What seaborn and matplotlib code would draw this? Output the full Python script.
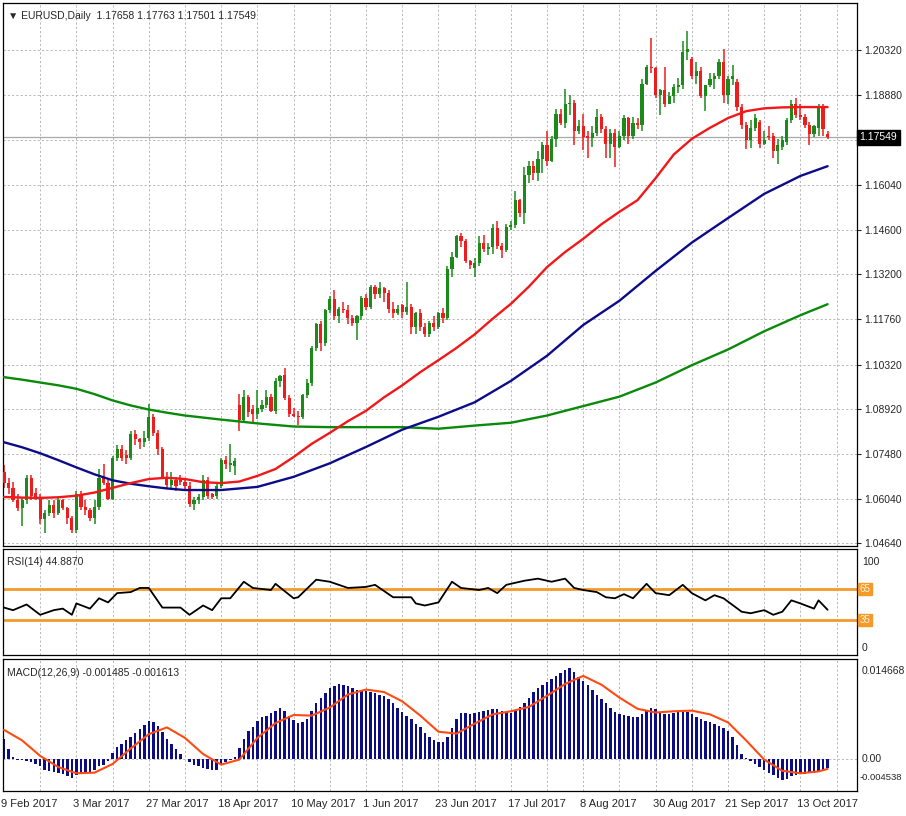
# EURUSD daily chart with moving averages, RSI and MACD panels
import numpy as np
import matplotlib
matplotlib.use("Agg")
import matplotlib.pyplot as plt
import matplotlib.transforms as mtrans
import seaborn as sns

# --------------------------------------------
# DATA
# --------------------------------------------

date_ticks = [0, 16, 32, 48, 64, 80, 96, 112, 128, 144, 160, 176]
date_labels = ["9 Feb 2017", "3 Mar 2017", "27 Mar 2017", "18 Apr 2017",
               "10 May 2017", "1 Jun 2017", "23 Jun 2017", "17 Jul 2017",
               "8 Aug 2017", "30 Aug 2017", "21 Sep 2017", "13 Oct 2017"]

opens = [
    1.0690, 1.0655, 1.0640, 1.0600, 1.0575, 1.0600, 1.0670, 1.0625, 1.0610, 1.0540, 1.0560, 1.0585, 1.0560, 1.0600, 1.0575, 1.0545,
    1.0505, 1.0620, 1.0580, 1.0570, 1.0545, 1.0580, 1.0670, 1.0655, 1.0605, 1.0735, 1.0765, 1.0745, 1.0735, 1.0810, 1.0795, 1.0785,
    1.0800, 1.0865, 1.0815, 1.0765, 1.0675, 1.0650, 1.0665, 1.0670, 1.0660, 1.0645, 1.0590, 1.0600, 1.0610, 1.0665, 1.0620, 1.0615,
    1.0645, 1.0730, 1.0712, 1.0710, 1.0905, 1.0855, 1.0930, 1.0890, 1.0875, 1.0890, 1.0905, 1.0930, 1.0885, 1.0980, 1.1000, 1.0925,
    1.0875, 1.0870, 1.0865, 1.0935, 1.0975, 1.1085, 1.1160, 1.1100, 1.1205, 1.1240, 1.1185, 1.1210, 1.1205, 1.1180, 1.1165, 1.1185,
    1.1245, 1.1215, 1.1280, 1.1255, 1.1275, 1.1260, 1.1210, 1.1195, 1.1220, 1.1200, 1.1215, 1.1150, 1.1195, 1.1150, 1.1130, 1.1165,
    1.1150, 1.1195, 1.1180, 1.1335, 1.1375, 1.1440, 1.1425, 1.1360, 1.1340, 1.1355, 1.1420, 1.1400, 1.1405, 1.1465, 1.1410, 1.1395,
    1.1470, 1.1475, 1.1555, 1.1515, 1.1635, 1.1665, 1.1640, 1.1685, 1.1730, 1.1680, 1.1750, 1.1830, 1.1800, 1.1860, 1.1865, 1.1775,
    1.1790, 1.1760, 1.1752, 1.1770, 1.1820, 1.1780, 1.1735, 1.1770, 1.1725, 1.1760, 1.1815, 1.1760, 1.1800, 1.1795, 1.1925, 1.1980,
    1.1975, 1.1890, 1.1905, 1.1860, 1.1885, 1.1915, 1.1920, 1.2025, 1.2005, 1.1950, 1.1965, 1.1885, 1.1920, 1.1940, 1.1950, 1.1995,
    1.1890, 1.1940, 1.1930, 1.1850, 1.1795, 1.1745, 1.1785, 1.1805, 1.1735, 1.1760, 1.1760, 1.1710, 1.1725, 1.1740, 1.1810, 1.1860,
    1.1825, 1.1820, 1.1795, 1.1765, 1.1785, 1.1850, 1.17658,
]
highs = [
    1.0712, 1.0672, 1.0660, 1.0620, 1.0610, 1.0680, 1.0680, 1.0640, 1.0620, 1.0570, 1.0600, 1.0600, 1.0610, 1.0605, 1.0580, 1.0550,
    1.0630, 1.0630, 1.0600, 1.0575, 1.0600, 1.0700, 1.0715, 1.0665, 1.0740, 1.0775, 1.0775, 1.0760, 1.0820, 1.0825, 1.0800, 1.0820,
    1.0906, 1.0875, 1.0825, 1.0770, 1.0690, 1.0690, 1.0675, 1.0680, 1.0670, 1.0660, 1.0610, 1.0620, 1.0680, 1.0675, 1.0625, 1.0655,
    1.0735, 1.0740, 1.0778, 1.0735, 1.0937, 1.0950, 1.0935, 1.0905, 1.0950, 1.0920, 1.0950, 1.0940, 1.0990, 1.1000, 1.1022, 1.0935,
    1.0895, 1.0885, 1.0940, 1.0985, 1.1090, 1.1165, 1.1170, 1.1210, 1.1250, 1.1268, 1.1215, 1.1230, 1.1220, 1.1190, 1.1190, 1.1250,
    1.1255, 1.1285, 1.1285, 1.1295, 1.1280, 1.1270, 1.1230, 1.1220, 1.1225, 1.1296, 1.1225, 1.1200, 1.1210, 1.1165, 1.1170, 1.1185,
    1.1200, 1.1212, 1.1345, 1.1390, 1.1445, 1.1450, 1.1430, 1.1365, 1.1370, 1.1440, 1.1445, 1.1420, 1.1480, 1.1490, 1.1420, 1.1480,
    1.1490, 1.1583, 1.1560, 1.1660, 1.1680, 1.1680, 1.1710, 1.1740, 1.1775, 1.1760, 1.1845, 1.1845, 1.1910, 1.1890, 1.1875, 1.1810,
    1.1830, 1.1775, 1.1790, 1.1845, 1.1830, 1.1790, 1.1780, 1.1780, 1.1775, 1.1825, 1.1820, 1.1820, 1.1815, 1.1940, 1.1985, 1.2070,
    1.1980, 1.1910, 1.1980, 1.1900, 1.1925, 1.1945, 1.2060, 1.2092, 1.2010, 1.1995, 1.1980, 1.1920, 1.1960, 1.1960, 1.2005, 1.2035,
    1.1950, 1.1985, 1.1940, 1.1860, 1.1805, 1.1810, 1.1830, 1.1810, 1.1775, 1.1790, 1.1770, 1.1750, 1.1760, 1.1815, 1.1875, 1.1880,
    1.1860, 1.1830, 1.1805, 1.1795, 1.1860, 1.1860, 1.17763,
]
lows = [
    1.0640, 1.0620, 1.0595, 1.0565, 1.0520, 1.0590, 1.0600, 1.0600, 1.0525, 1.0495, 1.0550, 1.0545, 1.0555, 1.0570, 1.0525, 1.0495,
    1.0495, 1.0570, 1.0555, 1.0535, 1.0525, 1.0570, 1.0650, 1.0600, 1.0600, 1.0725, 1.0725, 1.0715, 1.0730, 1.0775, 1.0765, 1.0770,
    1.0790, 1.0805, 1.0745, 1.0670, 1.0640, 1.0640, 1.0630, 1.0650, 1.0635, 1.0580, 1.0570, 1.0590, 1.0600, 1.0605, 1.0605, 1.0605,
    1.0640, 1.0700, 1.0690, 1.0680, 1.0820, 1.0850, 1.0865, 1.0850, 1.0860, 1.0880, 1.0895, 1.0880, 1.0875, 1.0960, 1.0920, 1.0865,
    1.0865, 1.0840, 1.0860, 1.0925, 1.0965, 1.1075, 1.1075, 1.1090, 1.1195, 1.1175, 1.1165, 1.1195, 1.1160, 1.1155, 1.1110, 1.1175,
    1.1205, 1.1210, 1.1240, 1.1245, 1.1230, 1.1195, 1.1180, 1.1190, 1.1180, 1.1190, 1.1130, 1.1130, 1.1140, 1.1120, 1.1120, 1.1140,
    1.1145, 1.1165, 1.1175, 1.1310, 1.1370, 1.1405, 1.1355, 1.1335, 1.1310, 1.1345, 1.1390, 1.1380, 1.1385, 1.1400, 1.1370, 1.1390,
    1.1460, 1.1465, 1.1500, 1.1480, 1.1610, 1.1620, 1.1615, 1.1640, 1.1665, 1.1675, 1.1725, 1.1795, 1.1785, 1.1825, 1.1730, 1.1765,
    1.1715, 1.1690, 1.1725, 1.1760, 1.1770, 1.1690, 1.1690, 1.1660, 1.1720, 1.1745, 1.1735, 1.1750, 1.1780, 1.1775, 1.1920, 1.1960,
    1.1880, 1.1825, 1.1850, 1.1860, 1.1865, 1.1895, 1.1910, 1.2000, 1.1940, 1.1925, 1.1880, 1.1840, 1.1915, 1.1910, 1.1940, 1.1865,
    1.1860, 1.1920, 1.1840, 1.1780, 1.1717, 1.1720, 1.1775, 1.1720, 1.1730, 1.1745, 1.1690, 1.1669, 1.1715, 1.1730, 1.1800, 1.1815,
    1.1810, 1.1785, 1.1730, 1.1755, 1.1760, 1.1760, 1.17501,
]
closes = [
    1.0655, 1.0640, 1.0600, 1.0575, 1.0600, 1.0670, 1.0615, 1.0610, 1.0540, 1.0560, 1.0585, 1.0560, 1.0600, 1.0575, 1.0545, 1.0505,
    1.0620, 1.0580, 1.0570, 1.0545, 1.0580, 1.0670, 1.0655, 1.0605, 1.0735, 1.0765, 1.0735, 1.0735, 1.0810, 1.0795, 1.0785, 1.0800,
    1.0865, 1.0815, 1.0765, 1.0675, 1.0650, 1.0665, 1.0645, 1.0660, 1.0645, 1.0590, 1.0600, 1.0610, 1.0665, 1.0615, 1.0612, 1.0645,
    1.0730, 1.0715, 1.0718, 1.0725, 1.0855, 1.0930, 1.0880, 1.0875, 1.0895, 1.0905, 1.0930, 1.0885, 1.0980, 1.0995, 1.0925, 1.0875,
    1.0870, 1.0865, 1.0935, 1.0975, 1.1085, 1.1160, 1.1100, 1.1205, 1.1240, 1.1185, 1.1210, 1.1205, 1.1180, 1.1165, 1.1185, 1.1245,
    1.1215, 1.1280, 1.1255, 1.1275, 1.1260, 1.1210, 1.1195, 1.1210, 1.1200, 1.1215, 1.1150, 1.1195, 1.1150, 1.1130, 1.1165, 1.1150,
    1.1195, 1.1180, 1.1335, 1.1375, 1.1440, 1.1425, 1.1360, 1.1350, 1.1355, 1.1420, 1.1400, 1.1405, 1.1465, 1.1410, 1.1395, 1.1470,
    1.1475, 1.1555, 1.1515, 1.1635, 1.1665, 1.1640, 1.1685, 1.1730, 1.1680, 1.1750, 1.1830, 1.1800, 1.1860, 1.1865, 1.1775, 1.1790,
    1.1755, 1.1752, 1.1770, 1.1820, 1.1780, 1.1735, 1.1770, 1.1725, 1.1760, 1.1815, 1.1760, 1.1800, 1.1795, 1.1925, 1.1980, 1.1975,
    1.1890, 1.1905, 1.1860, 1.1885, 1.1915, 1.1920, 1.2025, 1.2035, 1.1950, 1.1965, 1.1885, 1.1920, 1.1940, 1.1950, 1.1995, 1.1890,
    1.1940, 1.1950, 1.1850, 1.1795, 1.1745, 1.1785, 1.1815, 1.1735, 1.1745, 1.1755, 1.1710, 1.1730, 1.1745, 1.1810, 1.1860, 1.1825,
    1.1820, 1.1795, 1.1765, 1.1790, 1.1850, 1.1780, 1.17549,
]

# moving averages, sampled every few bars
red_ma_idx = [0, 4, 8, 12, 16, 20, 24, 28, 32, 36, 40, 44, 48, 52, 56, 60, 64, 68, 72, 76, 80, 84, 88, 92,
              96, 100, 104, 108, 112, 116, 120, 124, 128, 132, 136, 140, 144, 148, 152, 156, 160, 164,
              168, 172, 176, 180, 182]
red_ma = [1.0611, 1.0609, 1.0608, 1.0610, 1.0615, 1.0625, 1.0640, 1.0655, 1.0668, 1.0672, 1.0668, 1.0658,
          1.0655, 1.0660, 1.0678, 1.0700, 1.0738, 1.0780, 1.0815, 1.0852, 1.0885, 1.0928, 1.0966, 1.1008,
          1.1046, 1.1085, 1.1128, 1.1178, 1.1225, 1.1280, 1.1342, 1.1390, 1.1432, 1.1478, 1.1518, 1.1555,
          1.1625, 1.1700, 1.1750, 1.1785, 1.1816, 1.1838, 1.1847, 1.1850, 1.1851, 1.1851, 1.1851]

ma_idx = [0, 4, 8, 12, 16, 20, 24, 28, 32, 36, 40, 48, 56, 64, 72, 80, 88, 96, 104, 112, 120, 128, 136,
          144, 152, 160, 168, 176, 182]
blue_ma = [1.0785, 1.0769, 1.0750, 1.0728, 1.0705, 1.0683, 1.0664, 1.0653, 1.0645, 1.0638, 1.0633,
           1.0633, 1.0643, 1.0675, 1.0718, 1.0770, 1.0825, 1.0866, 1.0912, 1.0980, 1.1060, 1.1158,
           1.1235, 1.1330, 1.1420, 1.1498, 1.1575, 1.1632, 1.1663]
green_ma = [1.0992, 1.0984, 1.0975, 1.0966, 1.0955, 1.0938, 1.0918, 1.0902, 1.0889, 1.0879, 1.0870,
            1.0857, 1.0845, 1.0835, 1.0833, 1.0833, 1.0833, 1.0828, 1.0838, 1.0847, 1.0870, 1.0900,
            1.0930, 1.0975, 1.1030, 1.1080, 1.1138, 1.1189, 1.1224]

price_ticks = [1.20320, 1.18880, 1.17460, 1.16040, 1.14600, 1.13200, 1.11760, 1.10320,
               1.08920, 1.07480, 1.06040, 1.04640]
price_labels = ["1.20320", "1.18880", "", "1.16040", "1.14600", "1.13200", "1.11760", "1.10320",
                "1.08920", "1.07480", "1.06040", "1.04640"]

rsi_idx = [0, 2, 5, 8, 11, 13, 15, 16, 19, 21, 23, 25, 28, 30, 32, 35, 39, 41, 44, 46, 48, 50, 53, 55,
           59, 60, 64, 65, 69, 72, 76, 80, 82, 83, 86, 90, 91, 93, 96, 99, 101, 105, 107, 109, 111,
           115, 118, 121, 124, 126, 128, 131, 133, 135, 137, 139, 142, 144, 147, 150, 152, 155, 157,
           159, 163, 165, 168, 170, 172, 174, 176, 179, 180, 182]
rsi_vals = [47, 44.5, 50, 40, 44.5, 46, 40, 51, 46, 56, 52, 61, 62, 66, 66, 47, 47, 40, 49, 44.5, 56,
            56, 72, 66, 64, 70, 56, 57, 74, 72, 66, 67, 69, 66, 57, 57, 51, 49, 52, 72, 66, 64, 66, 61,
            69, 73, 75, 72, 75, 66, 64, 62, 57, 56, 60, 56, 70, 61, 59, 69, 61, 54, 59, 56, 43, 41.5,
            44.5, 40, 43, 54, 51, 46, 54, 44.887]

macd_hist = [
    0.0032, 0.0016, 0.0004, -0.0001, -0.0002, -0.0003, -0.0005, -0.0008, -0.0012, -0.0018, -0.0020, -0.0021, -0.0022, -0.0024, -0.0027, -0.0031,
    -0.0026, -0.0022, -0.0021, -0.0021, -0.0018, -0.0012, -0.0009, -0.0004, 0.0009, 0.0019, 0.0025, 0.0030, 0.0035, 0.0042, 0.0048, 0.0055,
    0.0061, 0.0060, 0.0053, 0.0044, 0.0033, 0.0024, 0.0016, 0.0008, 0.0000, -0.0005, -0.0009, -0.0012, -0.0014, -0.0016, -0.0017, -0.0018,
    -0.0010, -0.0005, -0.0001, 0.0004, 0.0018, 0.0032, 0.0045, 0.0052, 0.0061, 0.0068, 0.0070, 0.0074, 0.0078, 0.0083, 0.0077, 0.0070,
    0.0063, 0.0058, 0.0060, 0.0064, 0.0078, 0.0090, 0.0098, 0.0107, 0.0114, 0.0118, 0.0121, 0.0120, 0.0117, 0.0114, 0.0112, 0.0111,
    0.0110, 0.0108, 0.0106, 0.0104, 0.0101, 0.0096, 0.0090, 0.0082, 0.0076, 0.0070, 0.0064, 0.0057, 0.0051, 0.0042, 0.0035, 0.0031,
    0.0028, 0.0027, 0.0036, 0.0050, 0.0064, 0.0074, 0.0075, 0.0073, 0.0074, 0.0076, 0.0078, 0.0079, 0.0081, 0.0080, 0.0078, 0.0076,
    0.0075, 0.0078, 0.0084, 0.0090, 0.0099, 0.0108, 0.0114, 0.0120, 0.0125, 0.0129, 0.0134, 0.0138, 0.0143, 0.0146, 0.0141, 0.0133,
    0.0126, 0.0120, 0.0112, 0.0104, 0.0096, 0.0090, 0.0082, 0.0076, 0.0073, 0.0071, 0.0069, 0.0068, 0.0067, 0.0072, 0.0078, 0.0082,
    0.0080, 0.0075, 0.0073, 0.0073, 0.0075, 0.0077, 0.0078, 0.0076, 0.0072, 0.0068, 0.0065, 0.0062, 0.0059, 0.0057, 0.0054, 0.0050,
    0.0045, 0.0035, 0.0022, 0.0008, 0.0001, -0.0004, -0.0008, -0.0013, -0.0018, -0.0022, -0.0026, -0.0031, -0.0034, -0.0033, -0.0028, -0.0025,
    -0.0024, -0.0024, -0.0023, -0.0022, -0.0021, -0.0020, -0.0015,
]
signal_idx = [0, 4, 8, 12, 16, 20, 24, 28, 32, 36, 40, 44, 48, 52, 56, 60, 64, 68, 72, 76, 80, 84, 88, 92,
              96, 100, 104, 108, 112, 116, 120, 124, 128, 132, 136, 140, 144, 148, 152, 156, 160, 164,
              168, 172, 176, 180, 182]
signal_vals = [0.0047, 0.0030, 0.0005, -0.0013, -0.0023, -0.0022, -0.0008, 0.0017, 0.0040, 0.0051,
               0.0034, 0.0008, -0.0009, -0.0001, 0.0034, 0.0058, 0.0071, 0.0070, 0.0083, 0.0104, 0.0112,
               0.0108, 0.0093, 0.0070, 0.0044, 0.0041, 0.0057, 0.0072, 0.0077, 0.0084, 0.0102, 0.0121,
               0.0134, 0.0120, 0.0099, 0.0081, 0.0075, 0.0077, 0.0078, 0.0072, 0.0059, 0.0030, -0.0001,
               -0.0019, -0.0023, -0.0020, -0.0016]

# --------------------------------------------
# FIGURE LAYOUT (pixel boxes of the MT4 panels)
# --------------------------------------------

sns.set_style("white")
plt.rcParams['font.family'] = ['Liberation Sans', 'DejaVu Sans']
plt.rcParams['axes.edgecolor'] = 'black'

W, H = 906, 816
fig = plt.figure(figsize=(W / 100, H / 100), dpi=100)
fig.patch.set_facecolor('white')


def box(x0, y0, x1, y1):
    return [x0 / W, 1 - y1 / H, (x1 - x0) / W, (y1 - y0) / H]


ax = fig.add_axes(box(3, 3, 857, 546))
ax_rsi = fig.add_axes(box(3, 549, 857, 655), sharex=ax)
ax_macd = fig.add_axes(box(3, 659, 857, 791), sharex=ax)

GREEN = '#1b8a1b'
RED = '#ee1d1d'
GRID = '#b8b8b8'
ORANGE = '#f39a2a'
DASH = (0, (2.2, 2.2))

for a in (ax, ax_rsi, ax_macd):
    a.set_facecolor('white')
    for s in a.spines.values():
        s.set_linewidth(0.9)
    for k in range(8, 190, 8):
        a.axvline(k, color=GRID, lw=0.7, ls=DASH, zorder=0)

# --------------------------------------------
# MAIN PANEL: CANDLES + MOVING AVERAGES
# --------------------------------------------

o = np.array(opens)
h = np.array(highs)
l = np.array(lows)
c = np.array(closes)
idx = np.arange(len(c))
cols = np.where(c >= o, GREEN, RED)

for p in price_ticks:
    ax.axhline(p, color=GRID, lw=0.7, ls=DASH, zorder=0)
ax.axhline(c[-1], color='#a8a8a8', lw=0.9, zorder=1)

ax.vlines(idx, l, h, colors=cols, lw=1.1, zorder=2)
ax.bar(idx, np.maximum(np.abs(c - o), 0.00012), bottom=np.minimum(o, c),
       width=0.7, color=cols, linewidth=0, zorder=3)

sns.lineplot(x=ma_idx, y=green_ma, ax=ax, color='#0a8a0a', lw=1.7, zorder=4)
sns.lineplot(x=ma_idx, y=blue_ma, ax=ax, color='#0c0c8a', lw=1.7, zorder=4)
sns.lineplot(x=red_ma_idx, y=red_ma, ax=ax, color='#f01818', lw=1.7, zorder=4)

ax.set_xlim(-0.22, 188.5)
ax.set_ylim(1.0455, 1.2182)
ax.yaxis.tick_right()
ax.set_yticks(price_ticks)
ax.set_yticklabels(price_labels)
ax.tick_params(axis='y', length=3, width=0.8, pad=2, labelsize=7.5, direction='out')
ax.tick_params(axis='x', bottom=False, labelbottom=False)
ax.set_xlabel('')
ax.set_ylabel('')

tr = mtrans.blended_transform_factory(ax.transAxes, ax.transData)
ax.text(1.003, c[-1], '1.17549', transform=tr, ha='left', va='center', fontsize=7.5,
        color='white', bbox=dict(boxstyle='square,pad=0.25', fc='black', ec='black'))

fig.text(8 / W, 1 - 16 / H, '▼ EURUSD,Daily  1.17658 1.17763 1.17501 1.17549',
         fontsize=7.5, va='center', ha='left')

# --------------------------------------------
# RSI PANEL
# --------------------------------------------

ax_rsi.axhline(65, color=ORANGE, lw=2.0, zorder=1)
ax_rsi.axhline(35, color=ORANGE, lw=2.0, zorder=1)
sns.lineplot(x=rsi_idx, y=rsi_vals, ax=ax_rsi, color='black', lw=1.3, zorder=3)
ax_rsi.set_ylim(1.1, 103.7)
ax_rsi.set_yticks([])
ax_rsi.tick_params(axis='x', bottom=False, labelbottom=False)
ax_rsi.set_xlabel('')
ax_rsi.set_ylabel('')

tr_r = mtrans.blended_transform_factory(ax_rsi.transAxes, ax_rsi.transData)
for lv in (65, 35):
    ax_rsi.text(1.003, lv, str(lv), transform=tr_r, ha='left', va='center', fontsize=7,
                color='#fff4dc', bbox=dict(boxstyle='square,pad=0.15', fc=ORANGE, ec=ORANGE))
fig.text(862 / W, 1 - 562 / H, '100', fontsize=7.5, va='center', ha='left')
fig.text(862 / W, 1 - 648 / H, '0', fontsize=7.5, va='center', ha='left')
fig.text(7 / W, 1 - 562 / H, 'RSI(14) 44.8870', fontsize=7.5, va='center', ha='left')

# --------------------------------------------
# MACD PANEL
# --------------------------------------------

ax_macd.axhline(0, color=GRID, lw=0.7, ls=DASH, zorder=0)
ax_macd.bar(idx, macd_hist, width=0.55, color='#0c0c86', linewidth=0, zorder=2)
sns.lineplot(x=signal_idx, y=signal_vals, ax=ax_macd, color='#ff4a12', lw=1.5, zorder=3)
ax_macd.set_ylim(-0.00516, 0.01613)
ax_macd.set_yticks([])
ax_macd.set_xticks(date_ticks)
ax_macd.set_xticklabels(date_labels)
ax_macd.tick_params(axis='x', length=3, width=0.8, pad=2.5, labelsize=8, direction='out')
ax_macd.set_xlabel('')
ax_macd.set_ylabel('')
shift = mtrans.ScaledTranslation(-3 / 100, 0, fig.dpi_scale_trans)
for lab in ax_macd.get_xticklabels():
    lab.set_ha('left')
    lab.set_transform(lab.get_transform() + shift)

fig.text(862 / W, 1 - 671 / H, '0.014668', fontsize=7.5, va='center', ha='left')
fig.text(862 / W, 1 - 759 / H, '0.00', fontsize=7.5, va='center', ha='left')
fig.text(860 / W, 1 - 778 / H, '-0.004538', fontsize=6.8, va='center', ha='left')
fig.text(7 / W, 1 - 673 / H, 'MACD(12,26,9) -0.001485 -0.001613', fontsize=7.5,
         va='center', ha='left')

fig.savefig('out.png', dpi=100, facecolor='white')
